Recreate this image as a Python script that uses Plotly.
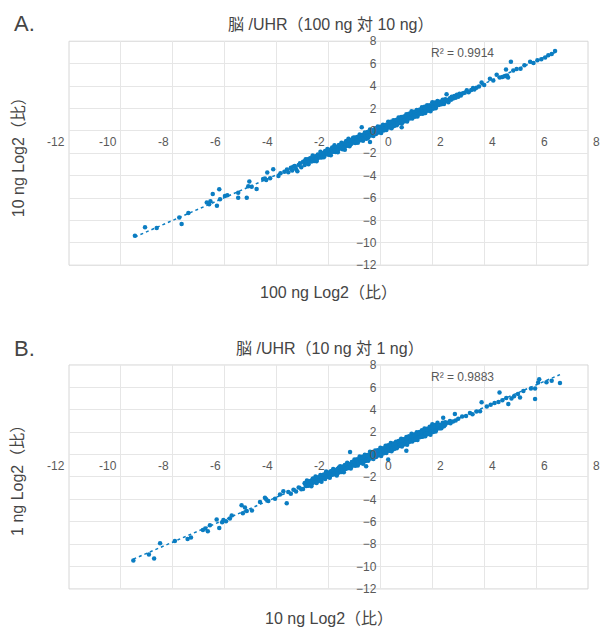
import numpy as np
import plotly.graph_objects as go

# ---------------- data: panel A (100 ng vs 10 ng) ----------------
a_low_x = [-9.46, -9.07, -8.62, -7.66, -7.75, -7.40, -6.69, -6.60, -6.55, -6.46,
           -6.21, -6.18, -6.30, -5.99, -5.90, -5.48, -5.48, -5.15, -5.05, -5.09,
           -4.96, -4.77, -4.52, -4.45, -4.40, -4.36, -4.13, -4.25, -3.93, -3.85,
           -3.70, -3.60, -3.55, -3.45, -3.40, -3.36, -3.30, -3.25, -3.20, -3.15,
           -3.10, -3.05]
a_low_y = [-9.38, -8.62, -8.68, -8.33, -7.75, -7.34, -6.41, -6.55, -6.30, -5.65,
           -5.21, -6.12, -6.70, -5.83, -5.75, -5.54, -5.97, -5.97, -4.52, -4.96,
           -5.00, -5.19, -4.31, -4.25, -4.40, -3.73, -3.44, -4.23, -4.03, -3.80,
           -3.65, -3.45, -3.70, -3.30, -3.55, -3.20, -3.15, -3.40, -3.60, -3.05,
           -2.90, -3.25]

mid_x = [-2.98, -2.92, -2.88, -2.83, -2.77, -2.71, -2.66, -2.61, -2.55, -2.50,
         -2.46, -2.41, -2.36, -2.31, -2.27, -2.22, -2.18, -2.13, -2.09, -2.04,
         -2.00, -1.95, -1.91, -1.86, -1.82, -1.77, -1.73, -1.68, -1.64, -1.59,
         -1.55, -1.50, -1.46, -1.41, -1.37, -1.32, -1.28, -1.23, -1.19, -1.14,
         -1.10, -1.05]
a_mid_y = [-2.77, -3.05, -2.54, -2.79, -2.98, -2.46, -2.68, -2.21, -2.70, -2.35,
           -2.71, -2.11, -2.34, -1.86, -2.39, -2.01, -2.37, -1.80, -2.03, -1.63,
           -2.14, -1.76, -2.18, -1.50, -1.86, -1.28, -1.89, -1.44, -1.92, -1.27,
           -1.53, -1.06, -1.64, -1.24, -1.70, -0.92, -1.34, -0.70, -1.38, -0.86,
           -1.02, -0.62]

a_extra_x = [-2.44, -2.20, -1.98, -1.80, -1.62, -1.48, -1.35, -1.25, -1.12, -1.70,
             -0.72, -0.40, -0.53, 0.82]
a_extra_y = [-2.50, -2.25, -1.95, -1.62, -1.70, -1.48, -1.05, -1.20, -1.15, -1.75,
             0.31, -1.00, -0.71, 0.31]

core1_x = [-1.00, -0.90, -0.80, -0.70, -0.60, -0.50, -0.40, -0.30, -0.20, -0.10,
           0.00, 0.10, 0.20, 0.30, 0.40, 0.50, 0.60, 0.70, 0.80, 0.90,
           1.00, 1.10, 1.20, 1.30, 1.40, 1.50, 1.60, 1.70, 1.80, 1.90,
           2.00, 2.10, 2.20]
core2_x = [-0.95, -0.85, -0.75, -0.65, -0.55, -0.45, -0.35, -0.25, -0.15, -0.05,
           0.05, 0.15, 0.25, 0.35, 0.45, 0.55, 0.65, 0.75, 0.85, 0.95,
           1.05, 1.15, 1.25, 1.35, 1.45, 1.55, 1.65, 1.75, 1.85, 1.95,
           2.05, 2.15]
core3_x = [-0.97, -0.87, -0.77, -0.67, -0.57, -0.47, -0.37, -0.27, -0.17, -0.07,
           0.03, 0.13, 0.23, 0.33, 0.43, 0.53, 0.63, 0.73, 0.83, 0.93,
           1.03, 1.13, 1.23, 1.33, 1.43, 1.53, 1.63, 1.73, 1.83, 1.93,
           2.03, 2.13]
band4_x = [-2.90, -2.80, -2.70, -2.60, -2.50, -2.40, -2.30, -2.20, -2.10, -2.00,
           -1.90, -1.80, -1.70, -1.60, -1.50, -1.40, -1.30, -1.20, -1.10, -1.00,
           -0.90, -0.80, -0.70, -0.60, -0.50, -0.40, -0.30, -0.20, -0.10, 0.00,
           0.10, 0.20, 0.30, 0.40, 0.50, 0.60, 0.70, 0.80, 0.90, 1.00,
           1.10, 1.20, 1.30, 1.40, 1.50, 1.60, 1.70, 1.80, 1.90, 2.00,
           2.10, 2.20, 2.30, 2.40, 2.50]
band5_x = [-2.85, -2.75, -2.65, -2.55, -2.45, -2.35, -2.25, -2.15, -2.05, -1.95,
           -1.85, -1.75, -1.65, -1.55, -1.45, -1.35, -1.25, -1.15, -1.05, -0.95,
           -0.85, -0.75, -0.65, -0.55, -0.45, -0.35, -0.25, -0.15, -0.05, 0.05,
           0.15, 0.25, 0.35, 0.45, 0.55, 0.65, 0.75, 0.85, 0.95, 1.05,
           1.15, 1.25, 1.35, 1.45, 1.55, 1.65, 1.75, 1.85, 1.95, 2.05,
           2.15, 2.25, 2.35, 2.45]

a_core1_y = [-0.59, -0.55, -0.32, -0.38, -0.16, -0.11, 0.12, 0.04, 0.22, 0.38,
             0.37, 0.55, 0.53, 0.82, 0.80, 0.95, 0.97, 1.20, 1.23, 1.26,
             1.49, 1.52, 1.74, 1.70, 1.86, 1.88, 2.11, 2.14, 2.29, 2.27,
             2.54, 2.53, 2.67]
a_core2_y = [-0.77, -0.78, -0.54, -0.53, -0.31, -0.39, -0.18, -0.04, -0.05, 0.19,
             0.17, 0.36, 0.31, 0.53, 0.69, 0.67, 0.86, 0.84, 1.12, 1.10,
             1.26, 1.24, 1.48, 1.50, 1.72, 1.67, 1.85, 2.00, 1.99, 2.18,
             2.15, 2.37]
a_core3_y = [-1.09, -1.06, -0.84, -0.89, -0.67, -0.63, -0.41, -0.47, -0.29, -0.14,
             -0.20, 0.03, 0.07, 0.29, 0.24, 0.43, 0.50, 0.70, 0.67, 0.86,
             0.84, 1.09, 1.10, 1.25, 1.27, 1.52, 1.53, 1.59, 1.79, 1.75,
             1.97, 2.02]
a_band4_y = [-2.69, -2.55, -2.50, -2.32, -2.27, -2.18, -2.04, -1.99, -1.81, -1.76,
             -1.67, -1.53, -1.48, -1.30, -1.25, -1.16, -1.02, -0.97, -0.79, -0.74,
             -0.65, -0.51, -0.46, -0.28, -0.23, -0.14, 0.00, 0.05, 0.23, 0.28,
             0.37, 0.51, 0.56, 0.74, 0.79, 0.88, 1.02, 1.07, 1.25, 1.30,
             1.39, 1.53, 1.58, 1.76, 1.81, 1.90, 2.04, 2.09, 2.27, 2.32,
             2.41, 2.55, 2.60, 2.78, 2.83]
a_band5_y = [-2.90, -2.76, -2.73, -2.57, -2.51, -2.39, -2.25, -2.22, -2.06, -2.00,
             -1.88, -1.74, -1.71, -1.55, -1.49, -1.37, -1.23, -1.20, -1.04, -0.98,
             -0.86, -0.72, -0.69, -0.53, -0.47, -0.35, -0.21, -0.18, -0.02, 0.04,
             0.16, 0.30, 0.33, 0.49, 0.55, 0.67, 0.81, 0.84, 1.00, 1.06,
             1.18, 1.32, 1.35, 1.51, 1.57, 1.69, 1.83, 1.86, 2.02, 2.08,
             2.20, 2.34, 2.37, 2.53]

a_high_x = [2.25, 2.30, 2.35, 2.40, 2.45, 2.50, 2.55, 2.58, 2.62, 2.68,
            2.72, 2.75, 2.80, 2.85, 2.90, 2.95, 3.00, 3.05, 3.10, 3.18,
            3.25, 3.33, 3.40, 3.50, 3.57, 3.62, 3.70, 3.80, 3.90, 4.00,
            4.22, 4.35, 4.48, 4.60, 4.70, 4.80, 4.84, 4.88, 4.92, 5.03,
            5.12, 5.25, 5.40, 5.55, 5.77, 5.90, 6.05, 6.20, 6.35, 6.47,
            6.60, 6.73]
a_high_y = [2.30, 2.55, 2.45, 2.70, 2.40, 2.62, 3.26, 2.75, 2.55, 2.90,
            2.78, 3.05, 2.88, 3.10, 2.95, 3.22, 3.05, 3.30, 3.15, 3.35,
            3.40, 3.63, 3.45, 3.65, 3.83, 3.70, 3.85, 3.95, 4.31, 4.10,
            4.65, 4.50, 5.00, 4.75, 4.80, 4.88, 5.47, 4.95, 4.77, 6.17,
            5.38, 5.53, 5.55, 5.85, 6.17, 6.05, 6.30, 6.40, 6.55, 6.75,
            6.85, 7.13]

# ---------------- data: panel B (10 ng vs 1 ng) ----------------
b_low_x = [-9.52, -8.72, -8.49, -8.92, -7.92, -7.43, -7.30, -6.84, -6.75, -6.65,
           -6.57, -6.31, -6.21, -6.10, -6.05, -5.95, -5.73, -5.80, -5.35, -5.22,
           -5.30, -5.15, -4.95, -4.64, -4.45, -4.32, -4.40, -4.06, -3.87, -3.74,
           -3.61, -3.55, -3.45, -3.35, -3.25, -3.15, -3.05]
b_low_y = [-9.47, -9.29, -7.92, -8.92, -7.72, -7.55, -7.40, -6.73, -6.60, -6.85,
           -6.32, -5.80, -6.55, -6.05, -5.85, -5.95, -5.45, -5.70, -4.52, -4.72,
           -5.25, -5.05, -5.00, -4.23, -3.85, -4.14, -4.00, -3.94, -3.56, -3.27,
           -4.34, -3.35, -3.50, -3.15, -3.30, -2.95, -3.10]

b_mid_y = [-3.08, -2.57, -2.78, -2.31, -2.79, -2.46, -2.84, -2.16, -2.43, -1.95,
           -2.54, -2.11, -2.31, -1.83, -2.42, -2.00, -1.78, -2.18, -1.51, -1.96,
           -1.72, -2.07, -1.49, -1.71, -1.29, -1.77, -1.41, -1.88, -1.26, -1.49,
           -1.05, -1.56, -1.20, -1.57, -0.93, -1.14, -0.74, -1.21, -0.89, -1.24,
           -0.70, -0.93]

b_extra_x = [-2.40, -2.15, -1.92, -1.78, -1.60, -1.44, -1.30, -1.17, -2.65, -2.85,
             -1.17, -0.55, 0.30, 1.00]
b_extra_y = [-2.35, -2.05, -1.80, -1.55, -1.60, -1.30, -1.25, -0.95, -2.55, -2.70,
             0.23, -1.05, -0.45, 0.35]

b_core1_y = [-0.45, -0.43, -0.17, -0.20, -0.02, -0.05, 0.25, 0.22, 0.36, 0.39,
             0.61, 0.56, 0.79, 0.83, 1.04, 0.98, 1.15, 1.21, 1.42, 1.37,
             1.57, 1.64, 1.86, 1.79, 2.00, 2.02, 2.16, 2.33, 2.30, 2.48,
             2.70, 2.63, 2.85]
b_core2_y = [-0.74, -0.52, -0.60, -0.35, -0.32, -0.09, -0.17, 0.03, 0.19, 0.14,
             0.34, 0.29, 0.57, 0.61, 0.62, 0.90, 0.87, 1.06, 1.01, 1.22,
             1.38, 1.35, 1.61, 1.56, 1.73, 1.70, 1.97, 1.98, 2.15, 2.13,
             2.39, 2.37]
b_core3_y = [-1.00, -0.97, -0.74, -0.82, -0.58, -0.55, -0.32, -0.40, -0.22, -0.06,
             -0.14, 0.11, 0.14, 0.36, 0.29, 0.49, 0.57, 0.77, 0.72, 0.92,
             0.88, 1.15, 1.16, 1.30, 1.31, 1.57, 1.58, 1.63, 1.83, 1.77,
             2.01, 2.05]
b_band4_y = [-2.53, -2.38, -2.36, -2.16, -2.11, -2.03, -1.88, -1.86, -1.66, -1.61,
             -1.53, -1.38, -1.36, -1.16, -1.11, -1.03, -0.88, -0.86, -0.66, -0.61,
             -0.53, -0.38, -0.36, -0.16, -0.11, -0.03, 0.12, 0.14, 0.34, 0.39,
             0.47, 0.62, 0.64, 0.84, 0.89, 0.97, 1.12, 1.14, 1.34, 1.39,
             1.47, 1.62, 1.64, 1.84, 1.89, 1.97, 2.12, 2.14, 2.34, 2.39,
             2.47, 2.62, 2.64, 2.84, 2.89]
b_band5_y = [-2.80, -2.65, -2.65, -2.48, -2.43, -2.30, -2.15, -2.15, -1.98, -1.93,
             -1.80, -1.65, -1.65, -1.48, -1.43, -1.30, -1.15, -1.15, -0.98, -0.93,
             -0.80, -0.65, -0.65, -0.48, -0.43, -0.30, -0.15, -0.15, 0.02, 0.07,
             0.20, 0.35, 0.35, 0.52, 0.57, 0.70, 0.85, 0.85, 1.02, 1.07,
             1.20, 1.35, 1.35, 1.52, 1.57, 1.70, 1.85, 1.85, 2.02, 2.07,
             2.20, 2.35, 2.35, 2.52]

b_high_x = [2.20, 2.25, 2.30, 2.40, 2.42, 2.50, 2.60, 2.68, 2.70, 2.80,
            2.87, 2.90, 3.00, 3.15, 3.30, 3.45, 3.55, 3.70, 3.84, 3.90,
            4.10, 4.25, 4.40, 4.55, 4.59, 4.70, 4.85, 4.93, 5.05, 5.15,
            5.30, 5.38, 5.51, 5.80, 5.96, 5.96, 6.08, 6.12, 6.40, 6.60,
            6.92]
b_high_y = [2.40, 2.60, 2.35, 2.55, 3.28, 2.65, 2.85, 3.00, 2.80, 2.95,
            3.63, 3.05, 3.20, 3.40, 3.45, 3.70, 3.60, 3.85, 3.87, 4.68,
            4.30, 4.45, 4.60, 4.70, 5.53, 4.85, 5.05, 4.51, 5.00, 5.20,
            5.40, 5.09, 5.67, 5.90, 5.90, 4.97, 6.43, 6.72, 6.45, 6.60,
            6.40]

# ---------------- labels ----------------
axis_ticks = [-12, -10, -8, -6, -4, -2, 0, 2, 4, 6, 8]
panel_letters = ["A.", "B."]
panel_titles = ["脳 /UHR（100 ng 対 10 ng）", "脳 /UHR（10 ng 対 1 ng）"]
x_titles = ["100 ng Log2（比）", "10 ng Log2（比）"]
y_titles = ["10 ng Log2（比）", "1 ng Log2（比）"]
r2_labels = ["R² = 0.9914", "R² = 0.9883"]


def join(pairs):
    xs, ys = [], []
    for px, py in pairs:
        assert len(px) == len(py)
        xs += px
        ys += py
    return np.array(xs), np.array(ys)


ax_, ay_ = join([(a_low_x, a_low_y), (mid_x, a_mid_y), (a_extra_x, a_extra_y),
                 (core1_x, a_core1_y), (core2_x, a_core2_y), (core3_x, a_core3_y),
                 (band4_x, a_band4_y), (band5_x, a_band5_y),
                 (a_high_x, a_high_y)])
bx_, by_ = join([(b_low_x, b_low_y), (mid_x, b_mid_y), (b_extra_x, b_extra_y),
                 (core1_x, b_core1_y), (core2_x, b_core2_y), (core3_x, b_core3_y),
                 (band4_x, b_band4_y), (band5_x, b_band5_y),
                 (b_high_x, b_high_y)])

# ---------------- layout geometry ----------------
W, H = 601, 637
FONT = "Liberation Sans, Arial, Noto Sans CJK JP, sans-serif"
BLUE = "#0b7dc2"
GRID = "#e6e6e6"
TICK_COLOR = "#595959"
TITLE_COLOR = "#454545"

x_dom = [69 / W, 588 / W]
panels = [
    dict(top=35, bottom=264, x=ax_, y=ay_, letter_y=17, title_y=18, xt_y=292),
    dict(top=366, bottom=595, x=bx_, y=by_, letter_y=349, title_y=349, xt_y=625),
]
zero_pos_x = x_dom[0] + (0 - (-12)) / 20 * (x_dom[1] - x_dom[0])

fig = go.Figure()
annotations = []
shapes = []

for i, p in enumerate(panels):
    sfx = "" if i == 0 else str(i + 1)
    xa, ya = "x" + sfx, "y" + sfx
    y_dom = [1 - p["bottom"] / H, 1 - p["top"] / H]

    # scatter points
    fig.add_trace(go.Scatter(
        x=p["x"], y=p["y"], mode="markers", xaxis=xa, yaxis=ya,
        marker=dict(size=4.5, color=BLUE, line=dict(width=0)),
        showlegend=False, hoverinfo="x+y"))

    # linear trend line (least squares)
    k, b = np.polyfit(p["x"], p["y"], 1)
    tx = np.array([p["x"].min(), p["x"].max()])
    fig.add_trace(go.Scatter(
        x=tx, y=k * tx + b, mode="lines", xaxis=xa, yaxis=ya,
        line=dict(color=BLUE, width=1.5, dash="dot"),
        showlegend=False, hoverinfo="skip"))

    fig.update_layout(**{
        "xaxis" + sfx: dict(domain=x_dom, range=[-12, 8], tickvals=axis_ticks,
                            showticklabels=False, showgrid=True, gridcolor=GRID,
                            gridwidth=1, zeroline=False, showline=False,
                            anchor=ya, fixedrange=True),
        "yaxis" + sfx: dict(domain=y_dom, range=[-12, 8], tickvals=axis_ticks,
                            showgrid=True, gridcolor=GRID, gridwidth=1,
                            zeroline=False, showline=False, ticks="",
                            anchor="free", position=zero_pos_x,
                            ticklabelstandoff=4,
                            tickfont=dict(family=FONT, size=12, color=TICK_COLOR),
                            fixedrange=True),
    })

    # plot-area frame
    shapes.append(dict(type="rect", xref=xa + " domain", yref=ya + " domain",
                       x0=0, x1=1, y0=0, y1=1,
                       line=dict(color="#d6d6d6", width=1), layer="below"))

    # x tick labels sit along the y = 0 line
    for t in axis_ticks:
        annotations.append(dict(
            x=t, y=0, xref=xa, yref=ya, text=str(t), showarrow=False,
            xanchor="right" if t < 0 else "left", yanchor="top",
            xshift=-2 if t < 0 else 3, yshift=-2,
            font=dict(family=FONT, size=12, color=TICK_COLOR)))

    # R² label
    annotations.append(dict(
        x=3.18, y=6.95, xref=xa, yref=ya, text=r2_labels[i], showarrow=False,
        xanchor="center", yanchor="middle",
        font=dict(family=FONT, size=12, color=TICK_COLOR)))

    # panel letter, title, axis titles
    annotations.append(dict(
        x=12 / W, y=1 - p["letter_y"] / H, xref="paper", yref="paper",
        text=panel_letters[i], showarrow=False, xanchor="left", yanchor="middle",
        font=dict(family=FONT, size=22, color=TITLE_COLOR)))
    annotations.append(dict(
        x=330 / W, y=1 - p["title_y"] / H, xref="paper", yref="paper",
        text=panel_titles[i], showarrow=False, xanchor="center", yanchor="middle",
        font=dict(family=FONT, size=16, color=TITLE_COLOR)))
    annotations.append(dict(
        x=328.5 / W, y=1 - p["xt_y"] / H, xref="paper", yref="paper",
        text=x_titles[i], showarrow=False, xanchor="center", yanchor="middle",
        font=dict(family=FONT, size=16, color=TITLE_COLOR)))
    annotations.append(dict(
        x=18 / W, y=(y_dom[0] + y_dom[1]) / 2, xref="paper", yref="paper",
        text=y_titles[i], showarrow=False, textangle=-90,
        xanchor="center", yanchor="middle",
        font=dict(family=FONT, size=16, color=TITLE_COLOR)))

fig.update_layout(
    width=W, height=H, margin=dict(l=0, r=0, t=0, b=0),
    paper_bgcolor="white", plot_bgcolor="white",
    annotations=annotations, shapes=shapes, showlegend=False,
)

fig.write_html("out.html")
